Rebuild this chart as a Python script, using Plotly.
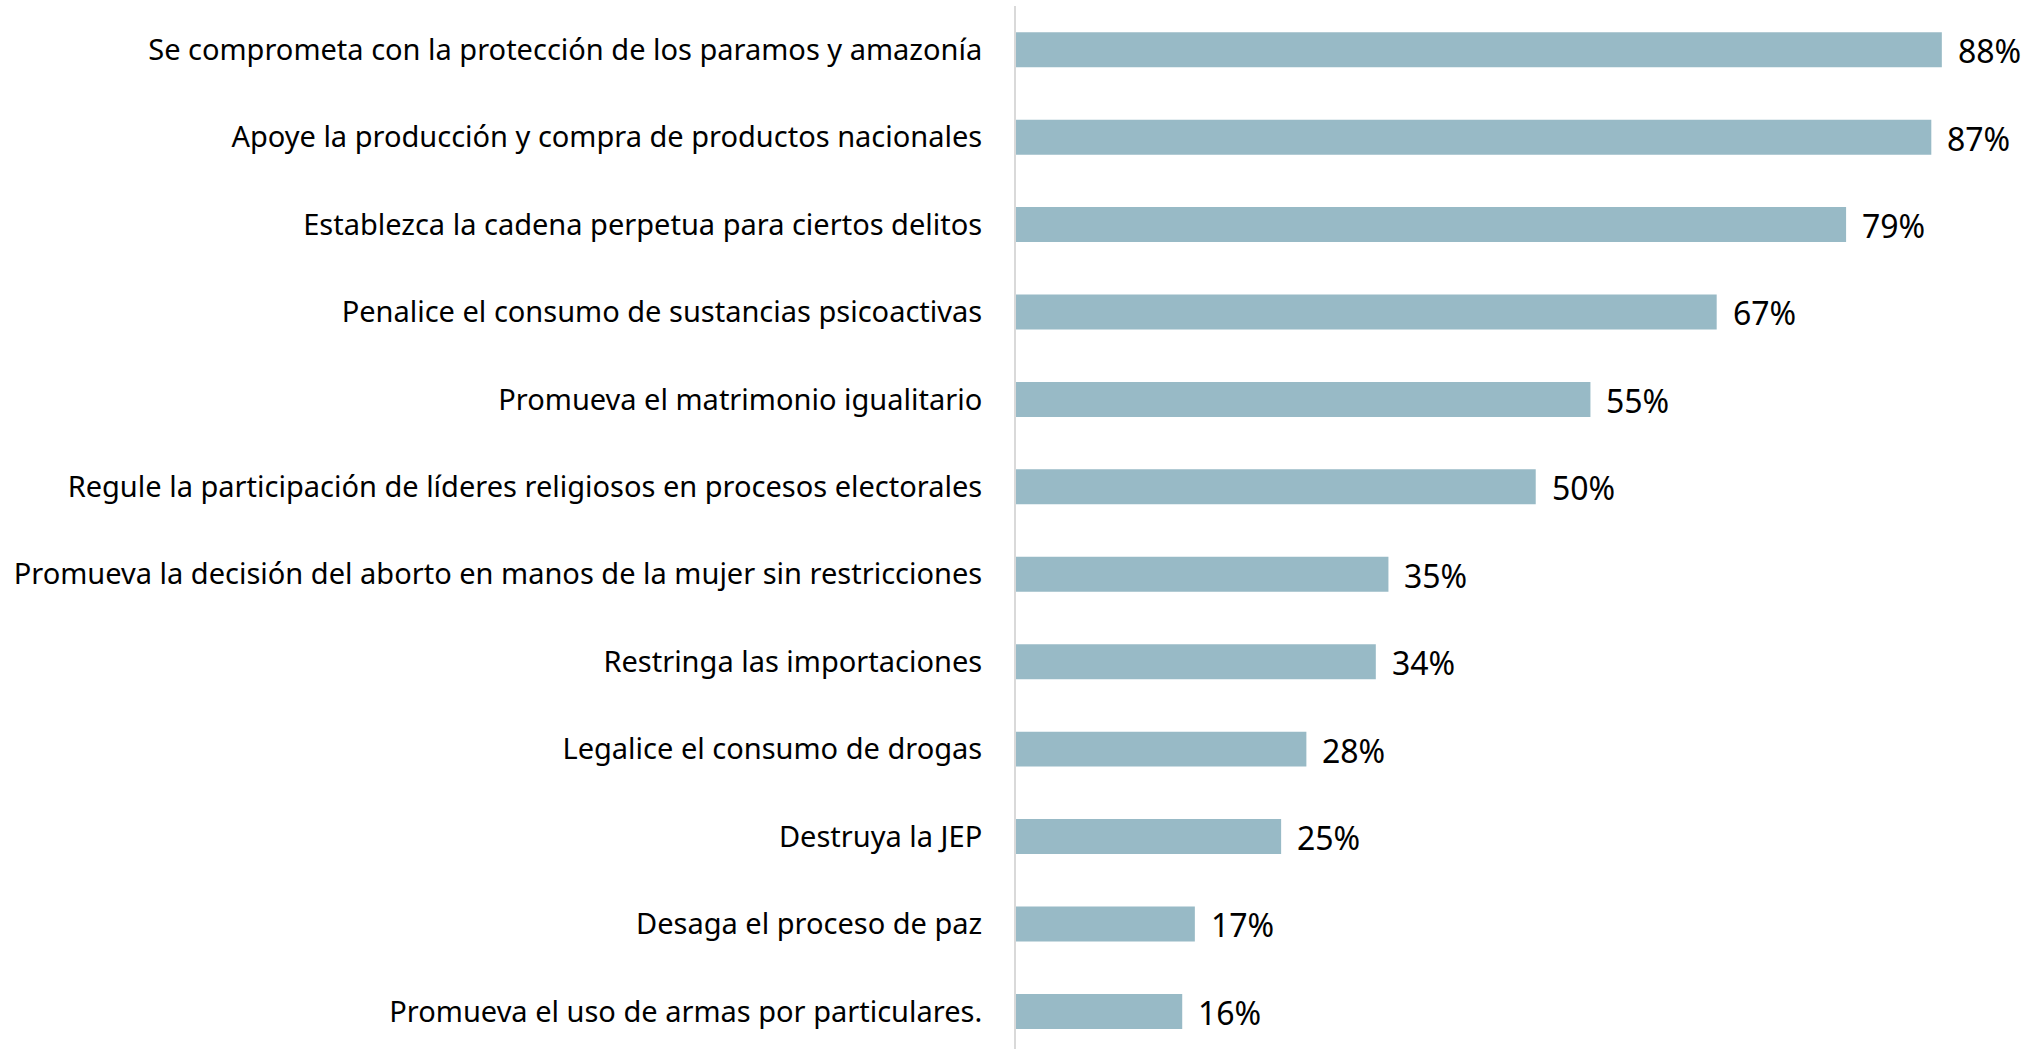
import plotly.graph_objects as go

categories = [
    "Se comprometa con la protección de los paramos y amazonía",
    "Apoye la producción y compra de productos nacionales",
    "Establezca la cadena perpetua para ciertos delitos",
    "Penalice el consumo de sustancias psicoactivas",
    "Promueva el matrimonio igualitario",
    "Regule la participación de líderes religiosos en procesos electorales",
    "Promueva la decisión del aborto en manos de la mujer sin restricciones",
    "Restringa las importaciones",
    "Legalice el consumo de drogas",
    "Destruya la JEP",
    "Desaga el proceso de paz",
    "Promueva el uso de armas por particulares.",
]
values = [88.0, 87.0, 78.9, 66.6, 54.6, 49.4, 35.4, 34.2, 27.6, 25.2, 17.0, 15.8]
value_labels = ["88%", "87%", "79%", "67%", "55%", "50%", "35%", "34%", "28%", "25%", "17%", "16%"]

FONT = "Noto Sans"
BAR_COLOR = "#98BAC6"

fig = go.Figure()
fig.add_trace(go.Bar(
    x=values,
    y=categories,
    orientation="h",
    marker=dict(color=BAR_COLOR, line=dict(width=0)),
    width=0.4,
    hoverinfo="skip",
))

for c, v, t in zip(categories, values, value_labels):
    fig.add_annotation(
        x=v, y=c, text=t, showarrow=False,
        xanchor="left", yanchor="middle", xshift=14, yshift=-1,
        font=dict(family=FONT, size=32, color="#000000"),
    )

fig.update_layout(
    width=2031,
    height=1049,
    margin=dict(l=1016, r=5, t=6, b=0),
    plot_bgcolor="white",
    paper_bgcolor="white",
    showlegend=False,
    font=dict(family=FONT, size=29, color="#000000"),
    xaxis=dict(
        range=[0, 96],
        showgrid=False,
        zeroline=False,
        showticklabels=False,
        showline=False,
        ticks="",
    ),
    yaxis=dict(
        type="category",
        categoryorder="array",
        categoryarray=categories,
        range=[11.43, -0.5],
        showgrid=False,
        zeroline=False,
        showline=True,
        linecolor="#D9D9D9",
        linewidth=2,
        ticks="",
        ticklabelstandoff=26,
        tickfont=dict(family=FONT, size=29, color="#000000"),
    ),
)

fig.write_html("out.html", config={"displayModeBar": False},
               post_script="document.body.style.margin='0';")
